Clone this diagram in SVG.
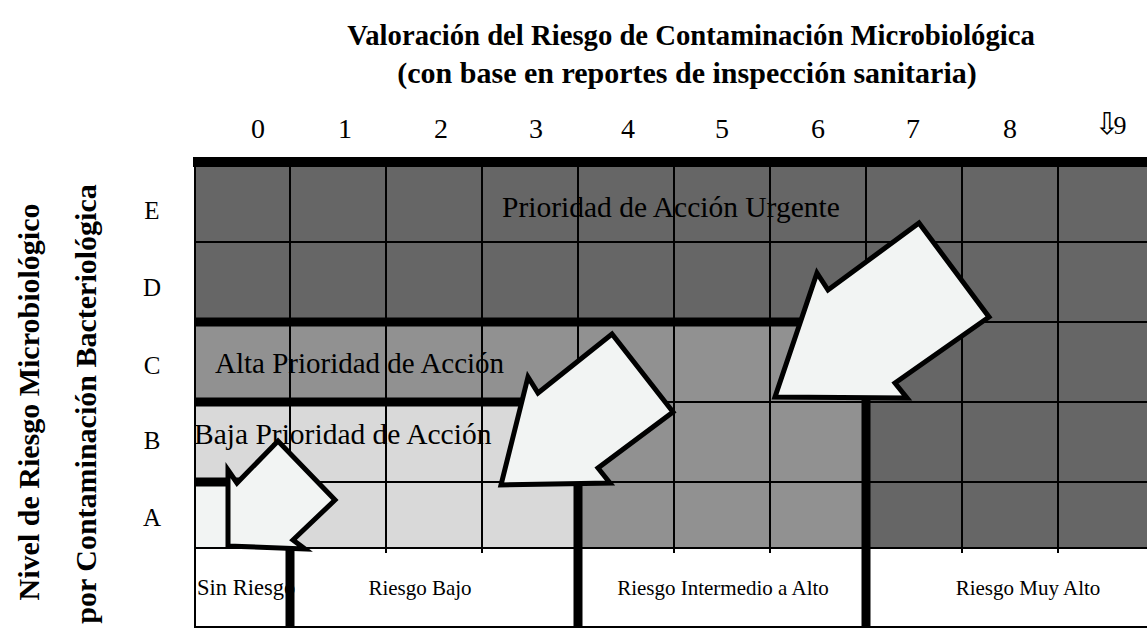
<svg xmlns="http://www.w3.org/2000/svg" width="1147" height="629" viewBox="0 0 1147 629">
<style>
.dark{fill:#666666}
.mid{fill:#919191}
.light{fill:#d9d9d9}
.pale{fill:#f2f4f3}
.thin{stroke:#000;stroke-width:2;fill:none}
.thick{stroke:#000;stroke-width:9;fill:none;stroke-linejoin:miter}
.arrow{fill:#f2f4f3;stroke:#000;stroke-width:5;stroke-linejoin:miter}
.title{font-family:"Liberation Serif","Times New Roman",serif;font-weight:bold;font-size:28.7px;fill:#000}
.num{font-family:"Liberation Serif","Times New Roman",serif;font-size:28px;fill:#000}
.row{font-family:"Liberation Serif","Times New Roman",serif;font-size:25px;fill:#000}
.zone{font-family:"Liberation Serif","Times New Roman",serif;font-size:29.5px;fill:#000}
.risk{font-family:"Liberation Serif","Times New Roman",serif;font-size:21px;fill:#000}
</style>
<rect width="1147" height="629" fill="#fff"/>
<g id="fills">
<rect class="dark" x="194" y="162" width="953" height="160"/>
<rect class="dark" x="866" y="322" width="281" height="226"/>
<rect class="mid" x="194" y="322" width="672" height="80"/>
<rect class="mid" x="578" y="402" width="288" height="146"/>
<rect class="light" x="194" y="402" width="384" height="80"/>
<rect class="light" x="290" y="482" width="288" height="66"/>
<rect class="pale" x="194" y="482" width="96" height="66"/>
<rect x="194" y="548" width="953" height="79" fill="#fff"/>
</g>
<g id="grid">
<path class="thin" d="M194,242H1147M194,322H1147M194,402H1147M194,482H1147M194,548H1147M194,627H1147"/>
<path class="thin" d="M195,158V627M290,162V553M386,162V553M482,162V553M578,162V553M674,162V553M770,162V553M866,162V553M962,162V553M1058,162V553"/>
</g>
<g id="risk-labels">
<text class="risk" x="197" y="595" style="font-size:22.5px">Sin Riesgo</text>
<text class="risk" x="420" y="595" text-anchor="middle">Riesgo Bajo</text>
<text class="risk" x="723" y="595" text-anchor="middle">Riesgo Intermedio a Alto</text>
<text class="risk" x="1028" y="595" text-anchor="middle">Riesgo Muy Alto</text>
</g>
<g id="boundaries">
<path class="thick" style="stroke-width:10" d="M193,162H1147"/>
<path class="thick" d="M194,482H290V627"/>
<path class="thick" d="M194,402H578V627"/>
<path class="thick" d="M194,322H866V627"/>
</g>
<g id="zone-labels">
<text class="zone" x="502" y="217">Prioridad de Acción Urgente</text>
<text class="zone" x="215" y="373" style="font-size:29px">Alta Prioridad de Acción</text>
<text class="zone" x="194" y="444">Baja Prioridad de Acción</text>
</g>
<g id="arrows">
<polygon id="arrow-1" class="arrow" points="228,470 237,483 278,441 335,500 293,540 305,549 228,546"/>
<polygon id="arrow-2" class="arrow" points="528,377 538,393 612,334 673,412 598,468 610,483 501,485"/>
<polygon id="arrow-3" class="arrow" points="817,273 828,290 919,223 989,317 895,383 907,398 775,397"/>
</g>
<g id="titles">
<text class="title" x="691" y="45" text-anchor="middle">Valoración del Riesgo de Contaminación Microbiológica</text>
<text class="title" x="687" y="83" text-anchor="middle" style="font-size:30px">(con base en reportes de inspección sanitaria)</text>
<text class="title" transform="translate(39,402) rotate(-90)" text-anchor="middle" style="font-size:30px">Nivel de Riesgo Microbiológico</text>
<text class="title" transform="translate(96,404) rotate(-90)" text-anchor="middle" style="font-size:30px">por Contaminación Bacteriológica</text>
</g>
<g id="column-numbers" text-anchor="middle">
<text class="num" x="258" y="138">0</text>
<text class="num" x="345" y="138">1</text>
<text class="num" x="441" y="138">2</text>
<text class="num" x="536" y="138">3</text>
<text class="num" x="628" y="138">4</text>
<text class="num" x="722" y="138">5</text>
<text class="num" x="818" y="138">6</text>
<text class="num" x="913" y="138">7</text>
<text class="num" x="1010" y="138">8</text>
<text x="1107" y="134" text-anchor="middle" font-family="DejaVu Sans,sans-serif" font-size="30" fill="#000">⇩</text>
<text class="num" x="1120" y="134" style="font-size:26px">9</text>
</g>
<g id="row-letters" text-anchor="middle">
<text class="row" x="152" y="219">E</text>
<text class="row" x="152" y="296">D</text>
<text class="row" x="152" y="374">C</text>
<text class="row" x="152" y="449">B</text>
<text class="row" x="152" y="526">A</text>
</g>
</svg>
